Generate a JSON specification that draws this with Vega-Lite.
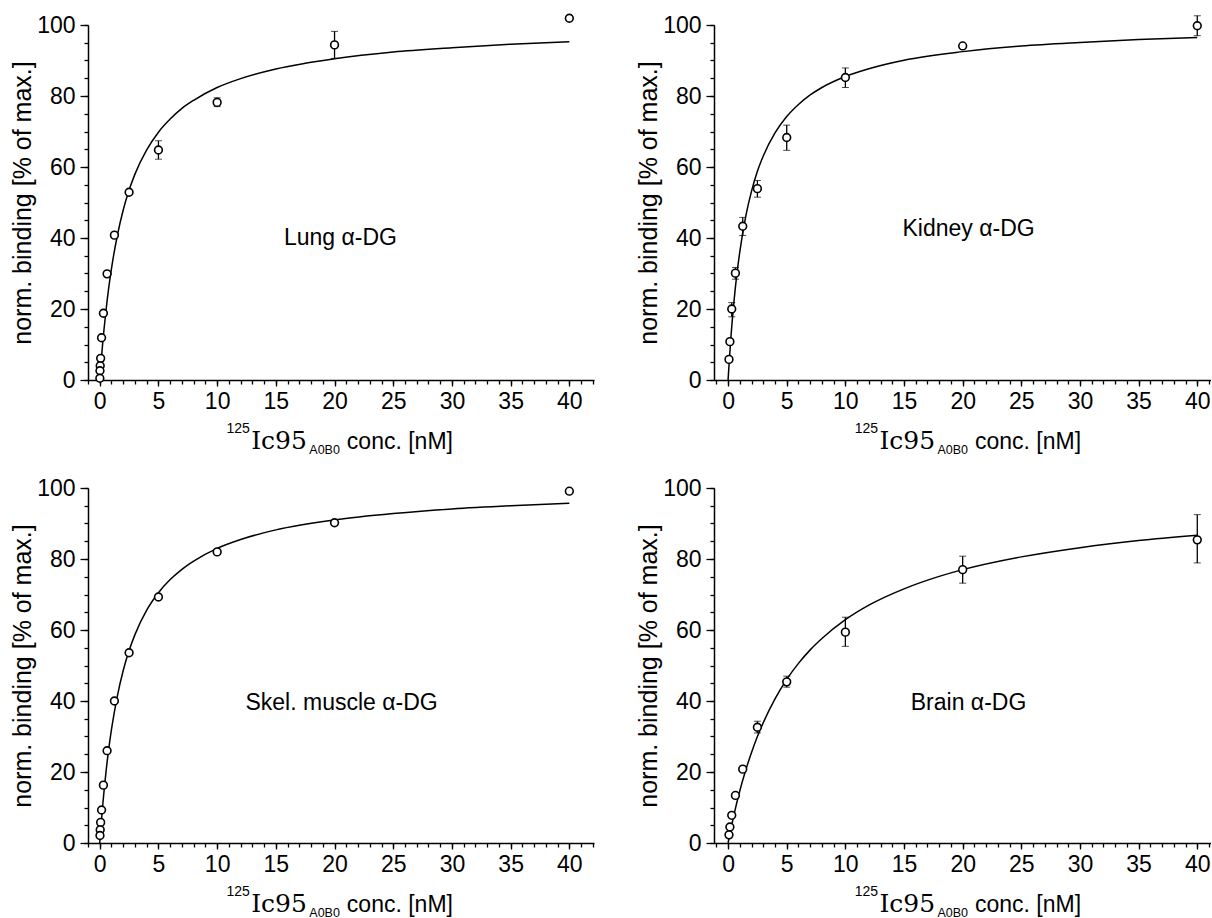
{
  "$schema": "https://vega.github.io/schema/vega-lite/v6.json",
  "padding": {"left": 10, "top": 11, "right": 0, "bottom": 0},
  "background": "white",
  "config": {
    "view": {"stroke": null},
    "font": "Liberation Sans",
    "axis": {"domainColor": "black", "tickColor": "black", "labelColor": "black", "titleColor": "black", "labelFont": "Liberation Sans", "titleFont": "Liberation Sans", "grid": false, "domainWidth": 1.5, "tickWidth": 1.3, "labelFlush": false, "labelOverlap": false}
  },
  "datasets": {
    "curves": [
      {"panel": "Lung", "x": 0, "y": 0}, {"panel": "Lung", "x": 0.1, "y": 4.4}, {"panel": "Lung", "x": 0.25, "y": 10.3}, {"panel": "Lung", "x": 0.5, "y": 18.6}, {"panel": "Lung", "x": 0.75, "y": 25.6}, {"panel": "Lung", "x": 1, "y": 31.4}, {"panel": "Lung", "x": 1.5, "y": 40.7}, {"panel": "Lung", "x": 2, "y": 47.9}, {"panel": "Lung", "x": 2.5, "y": 53.5}, {"panel": "Lung", "x": 3, "y": 58.0}, {"panel": "Lung", "x": 4, "y": 64.8}, {"panel": "Lung", "x": 5, "y": 69.8}, {"panel": "Lung", "x": 6, "y": 73.5}, {"panel": "Lung", "x": 7, "y": 76.5}, {"panel": "Lung", "x": 8, "y": 78.8}, {"panel": "Lung", "x": 10, "y": 82.4}, {"panel": "Lung", "x": 12, "y": 84.9}, {"panel": "Lung", "x": 15, "y": 87.6}, {"panel": "Lung", "x": 20, "y": 90.5}, {"panel": "Lung", "x": 25, "y": 92.4}, {"panel": "Lung", "x": 30, "y": 93.6}, {"panel": "Lung", "x": 35, "y": 94.6}, {"panel": "Lung", "x": 40, "y": 95.3},
      {"panel": "Kidney", "x": 0, "y": 0}, {"panel": "Kidney", "x": 0.1, "y": 5.3}, {"panel": "Kidney", "x": 0.25, "y": 12.4}, {"panel": "Kidney", "x": 0.5, "y": 22.0}, {"panel": "Kidney", "x": 0.75, "y": 29.8}, {"panel": "Kidney", "x": 1, "y": 36.1}, {"panel": "Kidney", "x": 1.5, "y": 46.0}, {"panel": "Kidney", "x": 2, "y": 53.2}, {"panel": "Kidney", "x": 2.5, "y": 58.8}, {"panel": "Kidney", "x": 3, "y": 63.1}, {"panel": "Kidney", "x": 4, "y": 69.6}, {"panel": "Kidney", "x": 5, "y": 74.2}, {"panel": "Kidney", "x": 6, "y": 77.6}, {"panel": "Kidney", "x": 7, "y": 80.3}, {"panel": "Kidney", "x": 8, "y": 82.4}, {"panel": "Kidney", "x": 10, "y": 85.5}, {"panel": "Kidney", "x": 12, "y": 87.7}, {"panel": "Kidney", "x": 15, "y": 90.1}, {"panel": "Kidney", "x": 20, "y": 92.5}, {"panel": "Kidney", "x": 25, "y": 94.1}, {"panel": "Kidney", "x": 30, "y": 95.1}, {"panel": "Kidney", "x": 35, "y": 95.9}, {"panel": "Kidney", "x": 40, "y": 96.5},
      {"panel": "Skel", "x": 0, "y": 0}, {"panel": "Skel", "x": 0.1, "y": 4.5}, {"panel": "Skel", "x": 0.25, "y": 10.5}, {"panel": "Skel", "x": 0.5, "y": 19.0}, {"panel": "Skel", "x": 0.75, "y": 26.1}, {"panel": "Skel", "x": 1, "y": 32.0}, {"panel": "Skel", "x": 1.5, "y": 41.4}, {"panel": "Skel", "x": 2, "y": 48.6}, {"panel": "Skel", "x": 2.5, "y": 54.2}, {"panel": "Skel", "x": 3, "y": 58.7}, {"panel": "Skel", "x": 4, "y": 65.6}, {"panel": "Skel", "x": 5, "y": 70.5}, {"panel": "Skel", "x": 6, "y": 74.2}, {"panel": "Skel", "x": 7, "y": 77.1}, {"panel": "Skel", "x": 8, "y": 79.4}, {"panel": "Skel", "x": 10, "y": 83.0}, {"panel": "Skel", "x": 12, "y": 85.5}, {"panel": "Skel", "x": 15, "y": 88.2}, {"panel": "Skel", "x": 20, "y": 91.0}, {"panel": "Skel", "x": 25, "y": 92.8}, {"panel": "Skel", "x": 30, "y": 94.1}, {"panel": "Skel", "x": 35, "y": 95.0}, {"panel": "Skel", "x": 40, "y": 95.7},
      {"panel": "Brain", "x": 0, "y": 0}, {"panel": "Brain", "x": 0.25, "y": 4.1}, {"panel": "Brain", "x": 0.5, "y": 7.9}, {"panel": "Brain", "x": 1, "y": 14.7}, {"panel": "Brain", "x": 1.5, "y": 20.5}, {"panel": "Brain", "x": 2, "y": 25.5}, {"panel": "Brain", "x": 2.5, "y": 30.0}, {"panel": "Brain", "x": 3, "y": 33.9}, {"panel": "Brain", "x": 4, "y": 40.6}, {"panel": "Brain", "x": 5, "y": 46.1}, {"panel": "Brain", "x": 6, "y": 50.6}, {"panel": "Brain", "x": 7, "y": 54.4}, {"panel": "Brain", "x": 8, "y": 57.6}, {"panel": "Brain", "x": 10, "y": 62.9}, {"panel": "Brain", "x": 12, "y": 67.0}, {"panel": "Brain", "x": 15, "y": 71.6}, {"panel": "Brain", "x": 18, "y": 75.1}, {"panel": "Brain", "x": 20, "y": 77.0}, {"panel": "Brain", "x": 25, "y": 80.6}, {"panel": "Brain", "x": 30, "y": 83.2}, {"panel": "Brain", "x": 35, "y": 85.2}, {"panel": "Brain", "x": 40, "y": 86.7}
    ],
    "points": [
      {"panel": "Lung", "x": 40, "y": 101.9}, {"panel": "Lung", "x": 20, "y": 94.4}, {"panel": "Lung", "x": 10, "y": 78.2}, {"panel": "Lung", "x": 5, "y": 64.8}, {"panel": "Lung", "x": 2.5, "y": 52.9}, {"panel": "Lung", "x": 1.25, "y": 40.8}, {"panel": "Lung", "x": 0.625, "y": 29.9}, {"panel": "Lung", "x": 0.3125, "y": 18.8}, {"panel": "Lung", "x": 0.156, "y": 11.9}, {"panel": "Lung", "x": 0.078, "y": 6.1}, {"panel": "Lung", "x": 0.039, "y": 4.0}, {"panel": "Lung", "x": 0.0195, "y": 2.6}, {"panel": "Lung", "x": 0.0098, "y": 0.5},
      {"panel": "Kidney", "x": 40, "y": 99.8}, {"panel": "Kidney", "x": 20, "y": 94.1}, {"panel": "Kidney", "x": 10, "y": 85.2}, {"panel": "Kidney", "x": 5, "y": 68.3}, {"panel": "Kidney", "x": 2.5, "y": 53.9}, {"panel": "Kidney", "x": 1.25, "y": 43.3}, {"panel": "Kidney", "x": 0.625, "y": 30.1}, {"panel": "Kidney", "x": 0.3125, "y": 20.0}, {"panel": "Kidney", "x": 0.156, "y": 10.8}, {"panel": "Kidney", "x": 0.078, "y": 5.8},
      {"panel": "Skel", "x": 40, "y": 99.1}, {"panel": "Skel", "x": 20, "y": 90.2}, {"panel": "Skel", "x": 10, "y": 82.0}, {"panel": "Skel", "x": 5, "y": 69.3}, {"panel": "Skel", "x": 2.5, "y": 53.6}, {"panel": "Skel", "x": 1.25, "y": 40.0}, {"panel": "Skel", "x": 0.625, "y": 26.0}, {"panel": "Skel", "x": 0.3125, "y": 16.3}, {"panel": "Skel", "x": 0.156, "y": 9.3}, {"panel": "Skel", "x": 0.078, "y": 5.8}, {"panel": "Skel", "x": 0.039, "y": 3.7}, {"panel": "Skel", "x": 0.0195, "y": 2.1},
      {"panel": "Brain", "x": 40, "y": 85.4}, {"panel": "Brain", "x": 20, "y": 77.0}, {"panel": "Brain", "x": 10, "y": 59.4}, {"panel": "Brain", "x": 5, "y": 45.4}, {"panel": "Brain", "x": 2.5, "y": 32.6}, {"panel": "Brain", "x": 1.25, "y": 20.8}, {"panel": "Brain", "x": 0.625, "y": 13.4}, {"panel": "Brain", "x": 0.3125, "y": 7.8}, {"panel": "Brain", "x": 0.156, "y": 4.5}, {"panel": "Brain", "x": 0.078, "y": 2.3}
    ],
    "errs": [
      {"panel": "Lung", "x": 20, "lo": 90.6, "hi": 98.2}, {"panel": "Lung", "x": 10, "lo": 77.0, "hi": 79.5}, {"panel": "Lung", "x": 5, "lo": 62.2, "hi": 67.4},
      {"panel": "Kidney", "x": 40, "lo": 97.0, "hi": 102.6}, {"panel": "Kidney", "x": 10, "lo": 82.4, "hi": 87.9}, {"panel": "Kidney", "x": 5, "lo": 64.7, "hi": 71.8}, {"panel": "Kidney", "x": 2.5, "lo": 51.5, "hi": 56.2}, {"panel": "Kidney", "x": 1.25, "lo": 40.7, "hi": 45.8}, {"panel": "Kidney", "x": 0.625, "lo": 28.4, "hi": 31.7}, {"panel": "Kidney", "x": 0.3125, "lo": 17.8, "hi": 21.8},
      {"panel": "Brain", "x": 40, "lo": 78.9, "hi": 92.5}, {"panel": "Brain", "x": 20, "lo": 73.2, "hi": 80.8}, {"panel": "Brain", "x": 10, "lo": 55.4, "hi": 63.6}, {"panel": "Brain", "x": 5, "lo": 43.9, "hi": 47.0}, {"panel": "Brain", "x": 2.5, "lo": 31.0, "hi": 34.3}
    ],
    "labels": [
      {"panel": "Lung", "label": "Lung α-DG"},
      {"panel": "Kidney", "label": "Kidney α-DG"},
      {"panel": "Skel", "label": "Skel. muscle α-DG"},
      {"panel": "Brain", "label": "Brain α-DG"}
    ]
  },
  "columns": 2,
  "spacing": {"row": 108, "column": 120},
  "bounds": "flush",
  "align": "each",
  "concat": [
    {
      "width": 506, "height": 355,
      "resolve": {"axis": {"x": "independent", "y": "independent"}},
      "layer": [
        {"data": {"name": "curves"}, "transform": [{"filter": "datum.panel === 'Lung'"}],
         "mark": {"type": "line", "color": "black", "strokeWidth": 1.5, "interpolate": "monotone"},
         "encoding": {
           "x": {"field": "x", "type": "quantitative", "scale": {"domain": [-1, 42.1], "nice": false, "zero": false},
                 "axis": {"orient": "bottom", "values": [0, 5, 10, 15, 20, 25, 30, 35, 40], "title": null, "tickSize": 6, "labelFontSize": 23, "labelPadding": 4}},
           "y": {"field": "y", "type": "quantitative", "scale": {"domain": [0, 100], "nice": false},
                 "axis": {"orient": "left", "values": [0, 20, 40, 60, 80, 100], "title": "norm. binding [% of max.]", "titleFontSize": 25, "titleFontWeight": "normal", "titlePadding": 1, "tickSize": 8, "labelFontSize": 23, "labelPadding": 5}}
         }},
        {"data": {"name": "errs"}, "transform": [{"filter": "datum.panel === 'Lung'"}],
         "mark": {"type": "errorbar", "ticks": {"size": 7, "color": "black", "strokeWidth": 1.3}, "rule": {"color": "black", "strokeWidth": 1.3}},
         "encoding": {"x": {"field": "x", "type": "quantitative", "axis": null}, "y": {"field": "lo", "type": "quantitative", "axis": null}, "y2": {"field": "hi"}}},
        {"data": {"name": "points"}, "transform": [{"filter": "datum.panel === 'Lung'"}],
         "mark": {"type": "circle", "fill": "white", "stroke": "black", "strokeWidth": 1.6, "size": 60, "opacity": 1},
         "encoding": {
           "x": {"field": "x", "type": "quantitative", "axis": {"orient": "bottom", "values": [-1, 0, 1, 2, 3, 4, 5, 6, 7, 8, 9, 10, 11, 12, 13, 14, 15, 16, 17, 18, 19, 20, 21, 22, 23, 24, 25, 26, 27, 28, 29, 30, 31, 32, 33, 34, 35, 36, 37, 38, 39, 40, 41, 42], "labels": false, "title": null, "tickSize": 4, "domain": false}},
           "y": {"field": "y", "type": "quantitative", "axis": {"orient": "left", "values": [0, 5, 10, 15, 20, 25, 30, 35, 40, 45, 50, 55, 60, 65, 70, 75, 80, 85, 90, 95, 100], "labels": false, "title": null, "tickSize": 4, "domain": false}}
         }},
        {"data": {"name": "labels"}, "transform": [{"filter": "datum.panel === 'Lung'"}],
         "mark": {"type": "text", "fontSize": 23, "align": "center", "baseline": "middle", "color": "black"},
         "encoding": {"x": {"datum": 20.5, "type": "quantitative", "axis": null}, "y": {"datum": 40, "type": "quantitative", "axis": null}, "text": {"field": "label"}}},
        {"data": {"name": "labels"}, "transform": [{"filter": "datum.panel === 'Lung'"}],
         "mark": {"type": "text", "text": "125", "fontSize": 14, "align": "left", "baseline": "alphabetic", "color": "black"},
         "encoding": {"x": {"datum": 10.8, "type": "quantitative", "axis": null}, "y": {"datum": -15, "type": "quantitative", "axis": null}}},
        {"data": {"name": "labels"}, "transform": [{"filter": "datum.panel === 'Lung'"}],
         "mark": {"type": "text", "text": "Ic95", "font": "DejaVu Serif", "fontSize": 25, "align": "left", "baseline": "alphabetic", "color": "black"},
         "encoding": {"x": {"datum": 12.9, "type": "quantitative", "axis": null}, "y": {"datum": -19.5, "type": "quantitative", "axis": null}}},
        {"data": {"name": "labels"}, "transform": [{"filter": "datum.panel === 'Lung'"}],
         "mark": {"type": "text", "text": "A0B0", "fontSize": 12.5, "align": "left", "baseline": "alphabetic", "color": "black"},
         "encoding": {"x": {"datum": 17.85, "type": "quantitative", "axis": null}, "y": {"datum": -20.8, "type": "quantitative", "axis": null}}},
        {"data": {"name": "labels"}, "transform": [{"filter": "datum.panel === 'Lung'"}],
         "mark": {"type": "text", "text": "conc. [nM]", "fontSize": 23, "align": "left", "baseline": "alphabetic", "color": "black"},
         "encoding": {"x": {"datum": 21.05, "type": "quantitative", "axis": null}, "y": {"datum": -19.5, "type": "quantitative", "axis": null}}}
      ]
    },
    {
      "width": 497, "height": 355,
      "resolve": {"axis": {"x": "independent", "y": "independent"}},
      "layer": [
        {"data": {"name": "curves"}, "transform": [{"filter": "datum.panel === 'Kidney'"}],
         "mark": {"type": "line", "color": "black", "strokeWidth": 1.5, "interpolate": "monotone"},
         "encoding": {
           "x": {"field": "x", "type": "quantitative", "scale": {"domain": [-1.2, 41.17], "nice": false, "zero": false},
                 "axis": {"orient": "bottom", "values": [0, 5, 10, 15, 20, 25, 30, 35, 40], "title": null, "tickSize": 6, "labelFontSize": 23, "labelPadding": 4}},
           "y": {"field": "y", "type": "quantitative", "scale": {"domain": [0, 100], "nice": false},
                 "axis": {"orient": "left", "values": [0, 20, 40, 60, 80, 100], "title": "norm. binding [% of max.]", "titleFontSize": 25, "titleFontWeight": "normal", "titlePadding": 1, "tickSize": 8, "labelFontSize": 23, "labelPadding": 5}}
         }},
        {"data": {"name": "errs"}, "transform": [{"filter": "datum.panel === 'Kidney'"}],
         "mark": {"type": "errorbar", "ticks": {"size": 7, "color": "black", "strokeWidth": 1.3}, "rule": {"color": "black", "strokeWidth": 1.3}},
         "encoding": {"x": {"field": "x", "type": "quantitative", "axis": null}, "y": {"field": "lo", "type": "quantitative", "axis": null}, "y2": {"field": "hi"}}},
        {"data": {"name": "points"}, "transform": [{"filter": "datum.panel === 'Kidney'"}],
         "mark": {"type": "circle", "fill": "white", "stroke": "black", "strokeWidth": 1.6, "size": 60, "opacity": 1},
         "encoding": {
           "x": {"field": "x", "type": "quantitative", "axis": {"orient": "bottom", "values": [-1, 0, 1, 2, 3, 4, 5, 6, 7, 8, 9, 10, 11, 12, 13, 14, 15, 16, 17, 18, 19, 20, 21, 22, 23, 24, 25, 26, 27, 28, 29, 30, 31, 32, 33, 34, 35, 36, 37, 38, 39, 40, 41], "labels": false, "title": null, "tickSize": 4, "domain": false}},
           "y": {"field": "y", "type": "quantitative", "axis": {"orient": "left", "values": [0, 5, 10, 15, 20, 25, 30, 35, 40, 45, 50, 55, 60, 65, 70, 75, 80, 85, 90, 95, 100], "labels": false, "title": null, "tickSize": 4, "domain": false}}
         }},
        {"data": {"name": "labels"}, "transform": [{"filter": "datum.panel === 'Kidney'"}],
         "mark": {"type": "text", "fontSize": 23, "align": "center", "baseline": "middle", "color": "black"},
         "encoding": {"x": {"datum": 20.5, "type": "quantitative", "axis": null}, "y": {"datum": 42.6, "type": "quantitative", "axis": null}, "text": {"field": "label"}}},
        {"data": {"name": "labels"}, "transform": [{"filter": "datum.panel === 'Kidney'"}],
         "mark": {"type": "text", "text": "125", "fontSize": 14, "align": "left", "baseline": "alphabetic", "color": "black"},
         "encoding": {"x": {"datum": 10.8, "type": "quantitative", "axis": null}, "y": {"datum": -15, "type": "quantitative", "axis": null}}},
        {"data": {"name": "labels"}, "transform": [{"filter": "datum.panel === 'Kidney'"}],
         "mark": {"type": "text", "text": "Ic95", "font": "DejaVu Serif", "fontSize": 25, "align": "left", "baseline": "alphabetic", "color": "black"},
         "encoding": {"x": {"datum": 12.9, "type": "quantitative", "axis": null}, "y": {"datum": -19.5, "type": "quantitative", "axis": null}}},
        {"data": {"name": "labels"}, "transform": [{"filter": "datum.panel === 'Kidney'"}],
         "mark": {"type": "text", "text": "A0B0", "fontSize": 12.5, "align": "left", "baseline": "alphabetic", "color": "black"},
         "encoding": {"x": {"datum": 17.85, "type": "quantitative", "axis": null}, "y": {"datum": -20.8, "type": "quantitative", "axis": null}}},
        {"data": {"name": "labels"}, "transform": [{"filter": "datum.panel === 'Kidney'"}],
         "mark": {"type": "text", "text": "conc. [nM]", "fontSize": 23, "align": "left", "baseline": "alphabetic", "color": "black"},
         "encoding": {"x": {"datum": 21.05, "type": "quantitative", "axis": null}, "y": {"datum": -19.5, "type": "quantitative", "axis": null}}}
      ]
    },
    {
      "width": 506, "height": 355,
      "resolve": {"axis": {"x": "independent", "y": "independent"}},
      "layer": [
        {"data": {"name": "curves"}, "transform": [{"filter": "datum.panel === 'Skel'"}],
         "mark": {"type": "line", "color": "black", "strokeWidth": 1.5, "interpolate": "monotone"},
         "encoding": {
           "x": {"field": "x", "type": "quantitative", "scale": {"domain": [-1, 42.1], "nice": false, "zero": false},
                 "axis": {"orient": "bottom", "values": [0, 5, 10, 15, 20, 25, 30, 35, 40], "title": null, "tickSize": 6, "labelFontSize": 23, "labelPadding": 4}},
           "y": {"field": "y", "type": "quantitative", "scale": {"domain": [0, 100], "nice": false},
                 "axis": {"orient": "left", "values": [0, 20, 40, 60, 80, 100], "title": "norm. binding [% of max.]", "titleFontSize": 25, "titleFontWeight": "normal", "titlePadding": 1, "tickSize": 8, "labelFontSize": 23, "labelPadding": 5}}
         }},
        {"data": {"name": "points"}, "transform": [{"filter": "datum.panel === 'Skel'"}],
         "mark": {"type": "circle", "fill": "white", "stroke": "black", "strokeWidth": 1.6, "size": 60, "opacity": 1},
         "encoding": {
           "x": {"field": "x", "type": "quantitative", "axis": {"orient": "bottom", "values": [-1, 0, 1, 2, 3, 4, 5, 6, 7, 8, 9, 10, 11, 12, 13, 14, 15, 16, 17, 18, 19, 20, 21, 22, 23, 24, 25, 26, 27, 28, 29, 30, 31, 32, 33, 34, 35, 36, 37, 38, 39, 40, 41, 42], "labels": false, "title": null, "tickSize": 4, "domain": false}},
           "y": {"field": "y", "type": "quantitative", "axis": {"orient": "left", "values": [0, 5, 10, 15, 20, 25, 30, 35, 40, 45, 50, 55, 60, 65, 70, 75, 80, 85, 90, 95, 100], "labels": false, "title": null, "tickSize": 4, "domain": false}}
         }},
        {"data": {"name": "labels"}, "transform": [{"filter": "datum.panel === 'Skel'"}],
         "mark": {"type": "text", "fontSize": 23, "align": "center", "baseline": "middle", "color": "black"},
         "encoding": {"x": {"datum": 20.6, "type": "quantitative", "axis": null}, "y": {"datum": 39.5, "type": "quantitative", "axis": null}, "text": {"field": "label"}}},
        {"data": {"name": "labels"}, "transform": [{"filter": "datum.panel === 'Skel'"}],
         "mark": {"type": "text", "text": "125", "fontSize": 14, "align": "left", "baseline": "alphabetic", "color": "black"},
         "encoding": {"x": {"datum": 10.8, "type": "quantitative", "axis": null}, "y": {"datum": -15, "type": "quantitative", "axis": null}}},
        {"data": {"name": "labels"}, "transform": [{"filter": "datum.panel === 'Skel'"}],
         "mark": {"type": "text", "text": "Ic95", "font": "DejaVu Serif", "fontSize": 25, "align": "left", "baseline": "alphabetic", "color": "black"},
         "encoding": {"x": {"datum": 12.9, "type": "quantitative", "axis": null}, "y": {"datum": -19.5, "type": "quantitative", "axis": null}}},
        {"data": {"name": "labels"}, "transform": [{"filter": "datum.panel === 'Skel'"}],
         "mark": {"type": "text", "text": "A0B0", "fontSize": 12.5, "align": "left", "baseline": "alphabetic", "color": "black"},
         "encoding": {"x": {"datum": 17.85, "type": "quantitative", "axis": null}, "y": {"datum": -20.8, "type": "quantitative", "axis": null}}},
        {"data": {"name": "labels"}, "transform": [{"filter": "datum.panel === 'Skel'"}],
         "mark": {"type": "text", "text": "conc. [nM]", "fontSize": 23, "align": "left", "baseline": "alphabetic", "color": "black"},
         "encoding": {"x": {"datum": 21.05, "type": "quantitative", "axis": null}, "y": {"datum": -19.5, "type": "quantitative", "axis": null}}}
      ]
    },
    {
      "width": 497, "height": 355,
      "resolve": {"axis": {"x": "independent", "y": "independent"}},
      "layer": [
        {"data": {"name": "curves"}, "transform": [{"filter": "datum.panel === 'Brain'"}],
         "mark": {"type": "line", "color": "black", "strokeWidth": 1.5, "interpolate": "monotone"},
         "encoding": {
           "x": {"field": "x", "type": "quantitative", "scale": {"domain": [-1.2, 41.17], "nice": false, "zero": false},
                 "axis": {"orient": "bottom", "values": [0, 5, 10, 15, 20, 25, 30, 35, 40], "title": null, "tickSize": 6, "labelFontSize": 23, "labelPadding": 4}},
           "y": {"field": "y", "type": "quantitative", "scale": {"domain": [0, 100], "nice": false},
                 "axis": {"orient": "left", "values": [0, 20, 40, 60, 80, 100], "title": "norm. binding [% of max.]", "titleFontSize": 25, "titleFontWeight": "normal", "titlePadding": 1, "tickSize": 8, "labelFontSize": 23, "labelPadding": 5}}
         }},
        {"data": {"name": "errs"}, "transform": [{"filter": "datum.panel === 'Brain'"}],
         "mark": {"type": "errorbar", "ticks": {"size": 7, "color": "black", "strokeWidth": 1.3}, "rule": {"color": "black", "strokeWidth": 1.3}},
         "encoding": {"x": {"field": "x", "type": "quantitative", "axis": null}, "y": {"field": "lo", "type": "quantitative", "axis": null}, "y2": {"field": "hi"}}},
        {"data": {"name": "points"}, "transform": [{"filter": "datum.panel === 'Brain'"}],
         "mark": {"type": "circle", "fill": "white", "stroke": "black", "strokeWidth": 1.6, "size": 60, "opacity": 1},
         "encoding": {
           "x": {"field": "x", "type": "quantitative", "axis": {"orient": "bottom", "values": [-1, 0, 1, 2, 3, 4, 5, 6, 7, 8, 9, 10, 11, 12, 13, 14, 15, 16, 17, 18, 19, 20, 21, 22, 23, 24, 25, 26, 27, 28, 29, 30, 31, 32, 33, 34, 35, 36, 37, 38, 39, 40, 41], "labels": false, "title": null, "tickSize": 4, "domain": false}},
           "y": {"field": "y", "type": "quantitative", "axis": {"orient": "left", "values": [0, 5, 10, 15, 20, 25, 30, 35, 40, 45, 50, 55, 60, 65, 70, 75, 80, 85, 90, 95, 100], "labels": false, "title": null, "tickSize": 4, "domain": false}}
         }},
        {"data": {"name": "labels"}, "transform": [{"filter": "datum.panel === 'Brain'"}],
         "mark": {"type": "text", "fontSize": 23, "align": "center", "baseline": "middle", "color": "black"},
         "encoding": {"x": {"datum": 20.5, "type": "quantitative", "axis": null}, "y": {"datum": 39.4, "type": "quantitative", "axis": null}, "text": {"field": "label"}}},
        {"data": {"name": "labels"}, "transform": [{"filter": "datum.panel === 'Brain'"}],
         "mark": {"type": "text", "text": "125", "fontSize": 14, "align": "left", "baseline": "alphabetic", "color": "black"},
         "encoding": {"x": {"datum": 10.8, "type": "quantitative", "axis": null}, "y": {"datum": -15, "type": "quantitative", "axis": null}}},
        {"data": {"name": "labels"}, "transform": [{"filter": "datum.panel === 'Brain'"}],
         "mark": {"type": "text", "text": "Ic95", "font": "DejaVu Serif", "fontSize": 25, "align": "left", "baseline": "alphabetic", "color": "black"},
         "encoding": {"x": {"datum": 12.9, "type": "quantitative", "axis": null}, "y": {"datum": -19.5, "type": "quantitative", "axis": null}}},
        {"data": {"name": "labels"}, "transform": [{"filter": "datum.panel === 'Brain'"}],
         "mark": {"type": "text", "text": "A0B0", "fontSize": 12.5, "align": "left", "baseline": "alphabetic", "color": "black"},
         "encoding": {"x": {"datum": 17.85, "type": "quantitative", "axis": null}, "y": {"datum": -20.8, "type": "quantitative", "axis": null}}},
        {"data": {"name": "labels"}, "transform": [{"filter": "datum.panel === 'Brain'"}],
         "mark": {"type": "text", "text": "conc. [nM]", "fontSize": 23, "align": "left", "baseline": "alphabetic", "color": "black"},
         "encoding": {"x": {"datum": 21.05, "type": "quantitative", "axis": null}, "y": {"datum": -19.5, "type": "quantitative", "axis": null}}}
      ]
    }
  ]
}
